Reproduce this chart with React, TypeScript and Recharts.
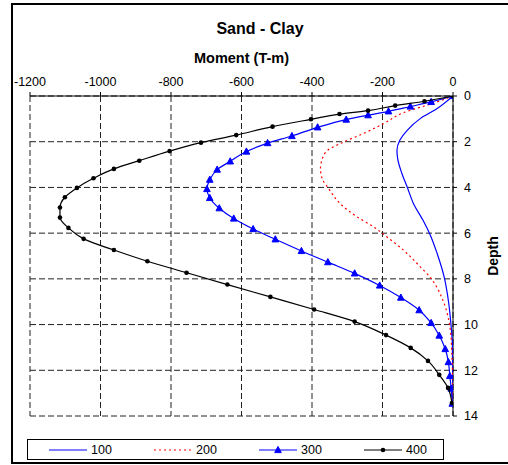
import { ScatterChart, Scatter, XAxis, YAxis, CartesianGrid, Legend } from 'recharts'

const font = '"Liberation Sans", Arial, sans-serif'

const momentTicks = [-1200, -1000, -800, -600, -400, -200, 0]
const depthTicks = [0, 2, 4, 6, 8, 10, 12, 14]

const seriesNames = ['100', '200', '300', '400']

const depth100 = [0, 0.55, 0.99, 1.5, 1.94, 2.38, 2.74, 3.39, 3.98, 4.71, 5.44, 6.1, 6.89, 7.92, 9.08, 9.96, 10.8, 12, 13.45]
const moment100 = [0, -45, -93, -130, -151, -159, -157, -145, -130, -112, -85, -64, -45, -25, -12, -6, -2, -1, 0]

const depth200 = [0, 0.31, 0.74, 1.21, 1.64, 2.08, 2.38, 2.81, 3.18, 3.69, 3.98, 4.71, 5.29, 5.73, 6.17, 6.75, 7.33, 7.95, 9.08, 9.89, 10.98, 13.45]
const moment200 = [0, -55, -142, -197, -254, -320, -356, -372, -376, -369, -356, -320, -272, -225, -187, -140, -102, -64, -25, -11, -4, 0]

const depth300 = [0, 0.26, 0.46, 0.67, 0.84, 1.03, 1.37, 1.75, 2.06, 2.43, 2.86, 3.22, 3.66, 4.07, 4.46, 4.91, 5.36, 5.82, 6.27, 6.78, 7.27, 7.76, 8.29, 8.82, 9.37, 9.93, 10.48, 11.07, 11.64, 12.25, 12.8, 13.46]
const moment300 = [0, -62, -121, -183, -241, -303, -384, -457, -526, -586, -632, -669, -690, -698, -690, -663, -622, -567, -504, -430, -355, -279, -208, -148, -96, -62, -39, -22, -13, -9, -5, -2]

const depth400 = [0, 0.23, 0.42, 0.64, 0.79, 1.02, 1.34, 1.71, 2.04, 2.41, 2.83, 3.19, 3.6, 4.02, 4.43, 4.88, 5.32, 5.77, 6.25, 6.74, 7.23, 7.73, 8.25, 8.79, 9.34, 9.87, 10.46, 11.02, 11.59, 12.2, 12.77, 13.43]
const moment400 = [0, -81, -164, -241, -322, -403, -512, -615, -715, -804, -890, -962, -1020, -1067, -1101, -1115, -1115, -1091, -1048, -962, -867, -756, -640, -518, -394, -279, -190, -120, -71, -39, -14, -3]

const toPoints = (depths: number[], moments: number[]) =>
    depths.map((d, i) => ({ x: moments[i], y: d }))

const series = [
    { name: seriesNames[0], data: toPoints(depth100, moment100), color: '#0000ff', dash: undefined, marker: 'none' },
    { name: seriesNames[1], data: toPoints(depth200, moment200), color: '#ff0000', dash: '2 3', marker: 'none' },
    { name: seriesNames[2], data: toPoints(depth300, moment300), color: '#0000ff', dash: undefined, marker: 'triangle' },
    { name: seriesNames[3], data: toPoints(depth400, moment400), color: '#000000', dash: undefined, marker: 'dot' },
]

function Marker({ type, cx, cy, color }: any) {
    if (type === 'triangle') {
        return (
            <path
                d={`M${cx},${cy - 3.6}L${cx - 3.3},${cy + 2.6}L${cx + 3.3},${cy + 2.6}Z`}
                fill={color}
                stroke={color}
            />
        )
    }
    if (type === 'dot') {
        return <circle cx={cx} cy={cy} r={2.3} fill={color} />
    }
    return <g />
}

function LegendBox() {
    return (
        <div
            style={{
                position: 'relative',
                width: 415,
                height: 19,
                border: '1px solid #000',
                background: '#fff',
                fontFamily: font,
                fontSize: 12.5,
                color: '#000',
            }}
        >
            {series.map((s, i) => (
                <div
                    key={s.name}
                    style={{
                        position: 'absolute',
                        left: 21 + i * 105,
                        top: 0,
                        height: 19,
                        display: 'flex',
                        alignItems: 'center',
                    }}
                >
                    <svg width={40} height={10}>
                        <line x1={0} y1={5} x2={38} y2={5} stroke={s.color} strokeWidth={1.2} strokeDasharray={s.dash} />
                        <Marker type={s.marker} cx={19} cy={5} color={s.color} />
                    </svg>
                    <span style={{ marginLeft: 2 }}>{s.name}</span>
                </div>
            ))}
        </div>
    )
}

function DepthLabel({ viewBox }: any) {
    const x = viewBox.x + 40
    const y = viewBox.y + viewBox.height / 2
    return (
        <text
            x={x}
            y={y}
            transform={`rotate(-90 ${x} ${y})`}
            textAnchor="middle"
            dominantBaseline="central"
            fontFamily={font}
            fontWeight="bold"
            fontSize={14}
            fill="#000"
        >
            Depth
        </text>
    )
}

export default function App() {
    return (
        <div style={{ position: 'absolute', left: 0, top: 0, width: 508, height: 465, overflow: 'hidden', background: '#fff' }}>
            <div
                style={{
                    position: 'absolute',
                    left: 11,
                    top: 3,
                    width: 520,
                    height: 457,
                    border: '2px solid #000',
                }}
            />
            <div
                style={{
                    position: 'absolute',
                    left: 0,
                    top: 21,
                    width: 520,
                    textAlign: 'center',
                    fontFamily: font,
                    fontWeight: 'bold',
                    fontSize: 16,
                    lineHeight: '16px',
                }}
            >
                Sand - Clay
            </div>
            <div style={{ position: 'absolute', left: 0, top: 0 }}>
                <ScatterChart width={508} height={465} margin={{ top: 76, right: 0, bottom: 49, left: 30 }}>
                    <CartesianGrid strokeDasharray="6 3" stroke="#222" />
                    <XAxis
                        type="number"
                        dataKey="x"
                        orientation="top"
                        height={20}
                        domain={[-1200, 0]}
                        ticks={momentTicks}
                        allowDataOverflow
                        stroke="#000"
                        tickSize={4}
                        tickMargin={6}
                        tick={{ fill: '#000', fontSize: 12.5, fontFamily: font }}
                        label={{
                            value: 'Moment (T-m)',
                            position: 'top',
                            offset: 13,
                            fill: '#000',
                            fontSize: 14.5,
                            fontWeight: 'bold',
                            fontFamily: font,
                        }}
                    />
                    <YAxis
                        type="number"
                        dataKey="y"
                        orientation="right"
                        width={55}
                        reversed
                        domain={[0, 14]}
                        ticks={depthTicks}
                        allowDataOverflow
                        stroke="#000"
                        tickSize={4}
                        tickMargin={7}
                        tick={{ fill: '#000', fontSize: 12.5, fontFamily: font }}
                        label={<DepthLabel />}
                    />
                    <Legend
                        layout="horizontal"
                        verticalAlign="middle"
                        align="center"
                        wrapperStyle={{ position: 'absolute', left: 27, top: 439, width: 417, height: 21 }}
                        content={() => <LegendBox />}
                    />
                    {series.map((s) => (
                        <Scatter
                            key={s.name}
                            name={s.name}
                            data={s.data}
                            fill={s.color}
                            line={{ stroke: s.color, strokeWidth: 1.2, strokeDasharray: s.dash }}
                            lineJointType="monotoneY"
                            shape={(p: any) => <Marker type={s.marker} cx={p.cx} cy={p.cy} color={s.color} />}
                            isAnimationActive={false}
                        />
                    ))}
                </ScatterChart>
            </div>
        </div>
    )
}
